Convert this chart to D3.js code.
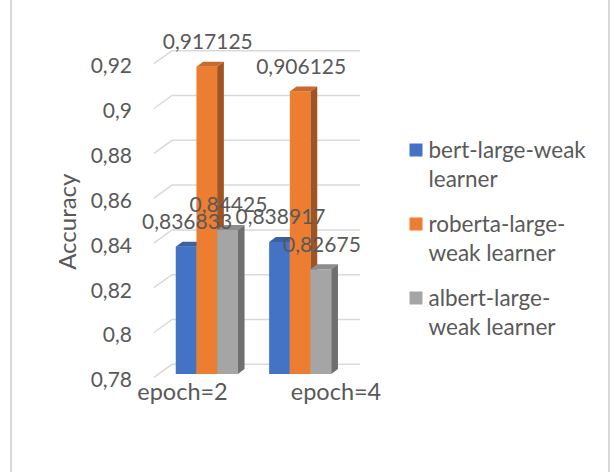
<!DOCTYPE html>
<html>
<head>
<meta charset="utf-8">
<script src="https://cdn.jsdelivr.net/npm/d3@7"></script>
<style>
  body { margin: 0; background: #fff; }
  text { font-family: Lato, "Open Sans", sans-serif; fill: #595959; }
</style>
</head>
<body>
<svg id="chart"></svg>
<script>
var categories = ['epoch=2', 'epoch=4'];
var seriesNames = ['bert-large-weak learner', 'roberta-large-weak learner', 'albert-large-weak learner'];
var legendLines = [['bert-large-weak', 'learner'], ['roberta-large-', 'weak learner'], ['albert-large-', 'weak learner']];
var bertValues = [0.836833, 0.838917];
var robertaValues = [0.917125, 0.906125];
var albertValues = [0.84425, 0.82675];
var yTicks = [0.78, 0.80, 0.82, 0.84, 0.86, 0.88, 0.90, 0.92];
var colors = ['#4472c4', '#ed7d31', '#a5a5a5'];

var width = 611, height = 472;
var depthX = 6.7, depthY = 5;      // bar depth
var wallX = 18, wallY = 13;        // side wall depth

var svg = d3.select('#chart')
    .attr('width', width)
    .attr('height', height);

var locale = d3.formatLocale({ decimal: ',', thousands: '.', grouping: [3], currency: ['', ''] });
var tickFmt = locale.format('.2~f');
var valFmt = locale.format('.6~f');

// chart frame
svg.append('line').attr('x1', 11).attr('x2', 11).attr('y1', 0).attr('y2', height)
    .style('stroke', '#d9d9d9').style('stroke-width', 2);
svg.append('line').attr('x1', 609).attr('x2', 609).attr('y1', 0).attr('y2', height)
    .style('stroke', '#d9d9d9').style('stroke-width', 2);

var yBack = d3.scaleLinear().domain([0.78, 0.92]).range([364.3, 50.7]);
var yBar = d3.scaleLinear().domain([0.78, 0.92]).range([374, 60.3]);
var yLabel = d3.scaleLinear().domain([0.78, 0.92]).range([380, 66]);

var x = d3.scaleBand().domain(categories).range([172, 335]).paddingInner(0.335).paddingOuter(0.04);
var xSub = d3.scaleBand().domain(d3.range(seriesNames.length)).range([0, x.bandwidth()]);
var xCatLabel = d3.scalePoint().domain(categories).range([182.5, 336]);

// back wall gridlines + side wall diagonals
svg.selectAll('.grid')
    .data(yTicks)
    .enter()
    .append('path')
    .attr('class', 'grid')
    .attr('d', d => 'M' + (172 - wallX) + ',' + (yBack(d) + wallY) + 'L172,' + yBack(d) + 'H360')
    .attr('fill', 'none')
    .style('stroke', '#d9d9d9')
    .style('stroke-width', 1.5);

// y axis labels
var yAxis = d3.axisLeft(yLabel).tickValues(yTicks).tickFormat(tickFmt).tickSize(0).tickPadding(0);
var gy = svg.append('g')
    .attr('transform', 'translate(132,0)')
    .call(yAxis);
gy.select('.domain').remove();
gy.selectAll('text')
    .style('font-family', 'Lato, sans-serif')
    .style('font-size', '21px')
    .attr('fill', '#595959');

svg.append('text')
    .attr('transform', 'translate(76,221.7) rotate(-90)')
    .attr('text-anchor', 'middle')
    .style('font-size', '24px')
    .text('Accuracy');

// bars
var rows = [];
categories.forEach(function (c, i) {
    [bertValues, robertaValues, albertValues].forEach(function (vals, s) {
        rows.push({ cat: c, s: s, value: vals[i] });
    });
});

var bars = svg.selectAll('.bar')
    .data(rows)
    .enter()
    .append('g')
    .attr('class', 'bar');

bars.append('rect')
    .attr('x', d => x(d.cat) + xSub(d.s))
    .attr('y', d => yBar(d.value))
    .attr('width', xSub.bandwidth())
    .attr('height', d => yBar(0.78) - yBar(d.value))
    .attr('fill', d => colors[d.s]);

bars.append('path')
    .attr('d', function (d) {
        var x0 = x(d.cat) + xSub(d.s), x1 = x0 + xSub.bandwidth(), y0 = yBar(d.value);
        return 'M' + x0 + ',' + y0 + 'L' + (x0 + depthX) + ',' + (y0 - depthY) +
            'L' + (x1 + depthX) + ',' + (y0 - depthY) + 'L' + x1 + ',' + y0 + 'Z';
    })
    .attr('fill', d => d3.color(colors[d.s]).darker(0.45));

bars.append('path')
    .attr('d', function (d) {
        var x1 = x(d.cat) + xSub(d.s) + xSub.bandwidth(), y0 = yBar(d.value), y1 = yBar(0.78);
        return 'M' + x1 + ',' + y0 + 'L' + (x1 + depthX) + ',' + (y0 - depthY) +
            'L' + (x1 + depthX) + ',' + (y1 - depthY) + 'L' + x1 + ',' + y1 + 'Z';
    })
    .attr('fill', d => d3.color(colors[d.s]).darker(1.1));

// data labels
svg.selectAll('.val')
    .data(rows)
    .enter()
    .append('text')
    .attr('class', 'val')
    .attr('x', d => x(d.cat) + xSub(d.s) + xSub.bandwidth() / 2 + 1)
    .attr('y', d => yBar(d.value) - 25)
    .attr('dy', '0.35em')
    .attr('text-anchor', 'middle')
    .style('font-size', '21px')
    .text(d => valFmt(d.value));

// category labels
svg.selectAll('.cat')
    .data(categories)
    .enter()
    .append('text')
    .attr('class', 'cat')
    .attr('x', d => xCatLabel(d))
    .attr('y', 391.7)
    .attr('dy', '0.35em')
    .attr('text-anchor', 'middle')
    .style('font-size', '23.5px')
    .text(d => d);

// legend
var legend = svg.selectAll('.legend')
    .data(seriesNames)
    .enter()
    .append('g')
    .attr('class', 'legend')
    .attr('transform', (d, i) => 'translate(409.5,' + (150 + i * 74) + ')');

legend.append('rect')
    .attr('x', 0)
    .attr('y', -6.5)
    .attr('width', 13)
    .attr('height', 13)
    .attr('fill', (d, i) => colors[i]);

legend.append('text')
    .attr('x', 19)
    .attr('y', 0)
    .style('font-size', '22.5px')
    .selectAll('tspan')
    .data((d, i) => legendLines[i])
    .enter()
    .append('tspan')
    .attr('x', 19)
    .attr('dy', (d, j) => j === 0 ? '0.35em' : '29px')
    .text(d => d);
</script>
</body>
</html>
